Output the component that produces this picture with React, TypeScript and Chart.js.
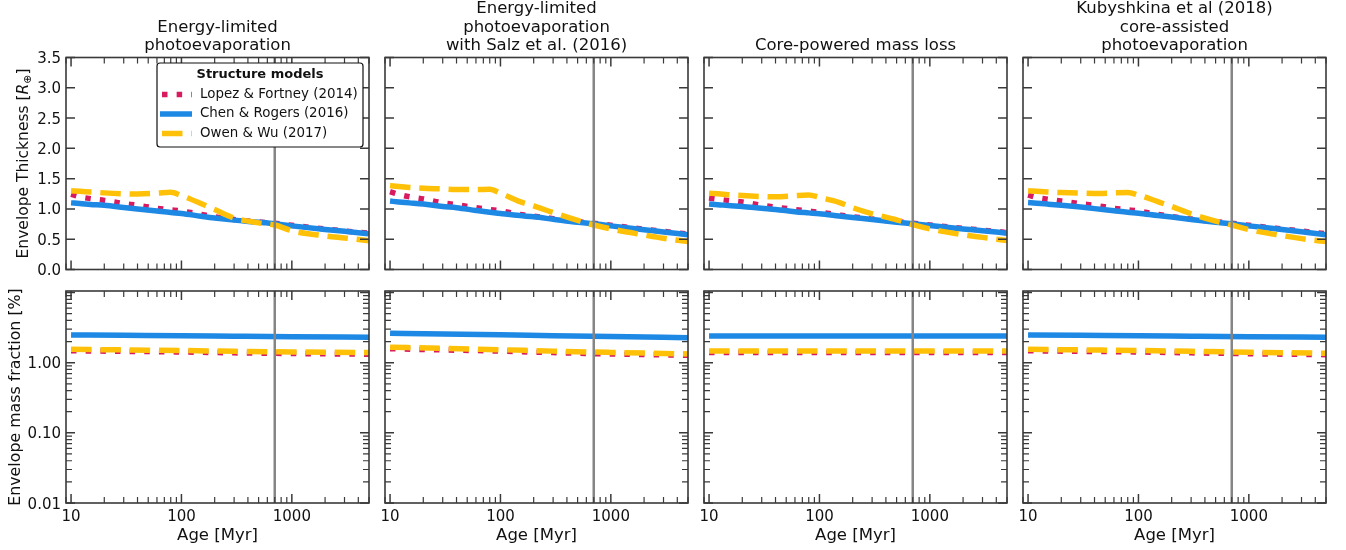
import React, { useEffect, useRef } from "react";
import { Chart, registerables } from "chart.js";

Chart.register(...registerables);

// ---------------- data ----------------
const panelTitles: string[][] = [
  ["Energy-limited", "photoevaporation"],
  ["Energy-limited", "photoevaporation", "with Salz et al. (2016)"],
  ["Core-powered mass loss"],
  ["Kubyshkina et al (2018)", "core-assisted", "photoevaporation"],
];
const modelNames = ["Lopez & Fortney (2014)", "Chen & Rogers (2016)", "Owen & Wu (2017)"];
const legendTitle = "Structure models";
const xAxisTitle = "Age [Myr]";
const yTitleTop = ["Envelope Thickness [", "R", "⊕", "]"];
const yTitleBottom = "Envelope mass fraction [%]";

const xMajorValues = [10, 100, 1000];
const xTickLabels = ["10", "100", "1000"];
const thickTickValues = [0, 0.5, 1, 1.5, 2, 2.5, 3, 3.5];
const thickTickLabels = ["0.0", "0.5", "1.0", "1.5", "2.0", "2.5", "3.0", "3.5"];
const fracTickValues = [0.01, 0.1, 1];
const fracTickLabels = ["0.01", "0.10", "1.00"];
const clusterAge = 700;

// envelope thickness [R_earth] vs age
const ages = [10, 12, 15, 20, 30, 40, 60, 80, 100, 150, 200, 300, 500, 700, 1000, 2000, 3000, 5000];

const thickLF_EL = [1.24, 1.2, 1.17, 1.14, 1.09, 1.06, 1.01, 0.985, 0.965, 0.91, 0.87, 0.825, 0.785, 0.765, 0.73, 0.67, 0.635, 0.6];
const thickCR_EL = [1.1, 1.09, 1.075, 1.06, 1.025, 1.0, 0.965, 0.94, 0.925, 0.88, 0.85, 0.815, 0.78, 0.755, 0.72, 0.66, 0.63, 0.59];
const thickOW_EL = [1.3, 1.29, 1.28, 1.265, 1.25, 1.245, 1.26, 1.275, 1.22, 1.09, 0.99, 0.85, 0.77, 0.735, 0.64, 0.555, 0.52, 0.475];

const thickLF_SZ = [1.285, 1.24, 1.2, 1.165, 1.1, 1.07, 1.02, 0.99, 0.97, 0.91, 0.88, 0.84, 0.79, 0.765, 0.73, 0.665, 0.63, 0.585];
const thickCR_SZ = [1.13, 1.115, 1.1, 1.08, 1.04, 1.02, 0.975, 0.945, 0.925, 0.89, 0.87, 0.83, 0.78, 0.755, 0.72, 0.655, 0.62, 0.575];
const thickOW_SZ = [1.385, 1.37, 1.355, 1.34, 1.33, 1.32, 1.32, 1.325, 1.26, 1.12, 1.05, 0.94, 0.81, 0.735, 0.67, 0.57, 0.515, 0.46];

const thickLF_CP = [1.18, 1.16, 1.14, 1.115, 1.06, 1.03, 0.99, 0.965, 0.945, 0.9, 0.87, 0.835, 0.79, 0.765, 0.735, 0.68, 0.65, 0.61];
const thickCR_CP = [1.08, 1.07, 1.055, 1.04, 1.01, 0.99, 0.955, 0.935, 0.92, 0.885, 0.86, 0.825, 0.78, 0.755, 0.725, 0.67, 0.64, 0.6];
const thickOW_CP = [1.26, 1.25, 1.235, 1.22, 1.205, 1.2, 1.22, 1.23, 1.19, 1.11, 1.02, 0.92, 0.82, 0.74, 0.67, 0.575, 0.53, 0.48];

const thickLF_KU = [1.23, 1.19, 1.16, 1.13, 1.085, 1.06, 1.01, 0.985, 0.965, 0.91, 0.875, 0.835, 0.79, 0.765, 0.73, 0.67, 0.635, 0.59];
const thickCR_KU = [1.105, 1.095, 1.08, 1.06, 1.03, 1.005, 0.97, 0.945, 0.93, 0.89, 0.865, 0.825, 0.78, 0.755, 0.72, 0.66, 0.625, 0.575];
const thickOW_KU = [1.3, 1.29, 1.28, 1.27, 1.26, 1.255, 1.265, 1.27, 1.23, 1.12, 1.04, 0.92, 0.8, 0.735, 0.66, 0.56, 0.51, 0.46];

// envelope mass fraction [%] vs age
const fracAges = [10, 30, 100, 300, 1000, 5000];

const fracLF_EL = [1.48, 1.45, 1.42, 1.38, 1.35, 1.32];
const fracCR_EL = [2.48, 2.45, 2.42, 2.38, 2.34, 2.3];
const fracOW_EL = [1.55, 1.52, 1.49, 1.45, 1.42, 1.39];

const fracLF_SZ = [1.58, 1.52, 1.46, 1.39, 1.33, 1.27];
const fracCR_SZ = [2.62, 2.56, 2.49, 2.42, 2.35, 2.27];
const fracOW_SZ = [1.66, 1.6, 1.53, 1.46, 1.4, 1.33];

const fracLF_CP = [1.4, 1.4, 1.4, 1.4, 1.4, 1.4];
const fracCR_CP = [2.4, 2.4, 2.4, 2.4, 2.4, 2.4];
const fracOW_CP = [1.47, 1.47, 1.47, 1.47, 1.47, 1.47];

const fracLF_KU = [1.48, 1.45, 1.42, 1.38, 1.34, 1.3];
const fracCR_KU = [2.48, 2.45, 2.42, 2.38, 2.34, 2.3];
const fracOW_KU = [1.55, 1.52, 1.49, 1.45, 1.41, 1.36];

const thickSeries = [
  [thickLF_EL, thickCR_EL, thickOW_EL],
  [thickLF_SZ, thickCR_SZ, thickOW_SZ],
  [thickLF_CP, thickCR_CP, thickOW_CP],
  [thickLF_KU, thickCR_KU, thickOW_KU],
];
const fracSeries = [
  [fracLF_EL, fracCR_EL, fracOW_EL],
  [fracLF_SZ, fracCR_SZ, fracOW_SZ],
  [fracLF_CP, fracCR_CP, fracOW_CP],
  [fracLF_KU, fracCR_KU, fracOW_KU],
];

// ---------------- layout & style ----------------
const PAGE_W = 1346;
const PAGE_H = 550;
const colLeft = [66, 385, 704, 1023];
const plotW = 303;
const rowTop = [57.5, 291];
const plotH = 212;
const X_MIN = 9;
const X_MAX = 5000;
const FRAC_MIN = 0.01;
const FRAC_MAX = 10.5;

const FONT = '"DejaVu Sans", sans-serif';
const TEXT = "#111111";
const FRAME = "#3a3a3a";
const LW = 5.5;
const modelStyles = [
  { color: "#D81B60", dash: [5.5, 9.15] },
  { color: "#1E88E5", dash: [] as number[] },
  { color: "#FFC107", dash: [20.5, 8.8] },
];
const modelOrder = [3, 2, 1];
const VLINE = "#858585";

function drawRotatedParts(ctx: CanvasRenderingContext2D, parts: { t: string; it?: boolean; sub?: boolean }[], cx: number, cy: number, size: number) {
  ctx.save();
  ctx.translate(cx, cy);
  ctx.rotate(-Math.PI / 2);
  ctx.textBaseline = "middle";
  ctx.textAlign = "left";
  const fonts = parts.map((p) => (p.sub ? `${size * 0.7}px ${FONT}` : `${p.it ? "italic " : ""}${size}px ${FONT}`));
  const widths = parts.map((p, i) => {
    ctx.font = fonts[i];
    return ctx.measureText(p.t).width;
  });
  const total = widths.reduce((a, b) => a + b, 0);
  let x = -total / 2;
  parts.forEach((p, i) => {
    ctx.font = fonts[i];
    ctx.fillStyle = TEXT;
    ctx.fillText(p.t, x, p.sub ? size * 0.28 : 0);
    x += widths[i];
  });
  ctx.restore();
}

function makeDecor(col: number, row: number) {
  return {
    id: "decor" + col + row,
    afterDraw(chart: any) {
      const ctx: CanvasRenderingContext2D = chart.ctx;
      const { left, right, top, bottom } = chart.chartArea;
      const xs = chart.scales.x;
      const ys = chart.scales.y;
      ctx.save();

      // inward ticks, x (top & bottom)
      ctx.strokeStyle = FRAME;
      for (let d = 1; d <= 1000; d *= 10) {
        for (let k = 1; k <= 9; k++) {
          const v = k * d;
          if (v < X_MIN || v > X_MAX) continue;
          const px = xs.getPixelForValue(v);
          const len = k === 1 ? 9 : 6;
          ctx.lineWidth = k === 1 ? 1.5 : 1.2;
          ctx.beginPath();
          ctx.moveTo(px, bottom);
          ctx.lineTo(px, bottom - len);
          ctx.moveTo(px, top);
          ctx.lineTo(px, top + len);
          ctx.stroke();
        }
      }
      // inward ticks, y (left & right)
      if (row === 0) {
        ctx.lineWidth = 1.5;
        thickTickValues.forEach((v) => {
          const py = ys.getPixelForValue(v);
          ctx.beginPath();
          ctx.moveTo(left, py);
          ctx.lineTo(left + 9, py);
          ctx.moveTo(right, py);
          ctx.lineTo(right - 9, py);
          ctx.stroke();
        });
      } else {
        for (let d = 0.01; d <= 10.01; d *= 10) {
          for (let k = 1; k <= 9; k++) {
            const v = k * d;
            if (v < FRAC_MIN * 0.999 || v > FRAC_MAX) continue;
            const py = ys.getPixelForValue(v);
            const len = k === 1 ? 9 : 6;
            ctx.lineWidth = k === 1 ? 1.5 : 1.2;
            ctx.beginPath();
            ctx.moveTo(left, py);
            ctx.lineTo(left + len, py);
            ctx.moveTo(right, py);
            ctx.lineTo(right - len, py);
            ctx.stroke();
          }
        }
      }

      // frame
      ctx.lineWidth = 1.6;
      ctx.strokeStyle = FRAME;
      ctx.strokeRect(left, top, right - left, bottom - top);

      ctx.fillStyle = TEXT;
      // y tick labels
      if (col === 0) {
        ctx.font = `15px ${FONT}`;
        ctx.textAlign = "right";
        ctx.textBaseline = "alphabetic";
        const vals = row === 0 ? thickTickValues : fracTickValues;
        const labs = row === 0 ? thickTickLabels : fracTickLabels;
        vals.forEach((v, i) => {
          const py = ys.getPixelForValue(v);
          ctx.fillText(labs[i], left - 5, py + 5.5);
        });
        if (row === 0) {
          drawRotatedParts(
            ctx,
            [{ t: yTitleTop[0] }, { t: yTitleTop[1], it: true }, { t: yTitleTop[2], sub: true }, { t: yTitleTop[3] }],
            24,
            (top + bottom) / 2,
            15.5
          );
        } else {
          drawRotatedParts(ctx, [{ t: yTitleBottom }], 16, (top + bottom) / 2, 15.8);
        }
      }

      // x tick labels & axis title
      if (row === 1) {
        ctx.font = `15px ${FONT}`;
        ctx.textAlign = "center";
        ctx.textBaseline = "alphabetic";
        xMajorValues.forEach((v, i) => {
          ctx.fillText(xTickLabels[i], xs.getPixelForValue(v), bottom + 18);
        });
        ctx.font = `16.5px ${FONT}`;
        ctx.fillText(xAxisTitle, (left + right) / 2, 540);
      }

      // titles
      if (row === 0) {
        ctx.font = `16.5px ${FONT}`;
        ctx.textAlign = "center";
        ctx.textBaseline = "alphabetic";
        const lines = panelTitles[col];
        lines.forEach((ln, i) => {
          const y = 50 - (lines.length - 1 - i) * 18.5;
          ctx.fillText(ln, (left + right) / 2, y);
        });
      }

      // legend
      if (row === 0 && col === 0) {
        const bx = 157, by = 63, bw = 206, bh = 84, r = 3;
        ctx.beginPath();
        ctx.moveTo(bx + r, by);
        ctx.lineTo(bx + bw - r, by);
        ctx.quadraticCurveTo(bx + bw, by, bx + bw, by + r);
        ctx.lineTo(bx + bw, by + bh - r);
        ctx.quadraticCurveTo(bx + bw, by + bh, bx + bw - r, by + bh);
        ctx.lineTo(bx + r, by + bh);
        ctx.quadraticCurveTo(bx, by + bh, bx, by + bh - r);
        ctx.lineTo(bx, by + r);
        ctx.quadraticCurveTo(bx, by, bx + r, by);
        ctx.closePath();
        ctx.fillStyle = "#ffffff";
        ctx.fill();
        ctx.lineWidth = 1.2;
        ctx.strokeStyle = "#111111";
        ctx.stroke();

        ctx.fillStyle = TEXT;
        ctx.font = `bold 13px ${FONT}`;
        ctx.textAlign = "center";
        ctx.textBaseline = "middle";
        ctx.fillText(legendTitle, 260, 75);
        const rowsY = [94.5, 114, 133.5];
        modelNames.forEach((nm, i) => {
          const st = modelStyles[i];
          ctx.save();
          ctx.strokeStyle = st.color;
          ctx.lineWidth = LW;
          ctx.lineCap = "butt";
          ctx.setLineDash(st.dash);
          ctx.beginPath();
          ctx.moveTo(i === 1 ? 160 : 162, rowsY[i]);
          ctx.lineTo(192, rowsY[i]);
          ctx.stroke();
          ctx.restore();
          ctx.fillStyle = TEXT;
          ctx.font = `13.4px ${FONT}`;
          ctx.textAlign = "left";
          ctx.textBaseline = "middle";
          ctx.fillText(nm, 200, rowsY[i]);
        });
      }
      ctx.restore();
    },
  };
}

function Panel({ col, row }: { col: number; row: number }) {
  const ref = useRef<HTMLCanvasElement>(null);
  useEffect(() => {
    if (!ref.current) return;
    const xVals = row === 0 ? ages : fracAges;
    const series = row === 0 ? thickSeries[col] : fracSeries[col];
    const yMin = row === 0 ? 0 : FRAC_MIN;
    const yMax = row === 0 ? 3.5 : FRAC_MAX;
    const datasets: any[] = series.map((vals, m) => ({
      label: modelNames[m],
      data: vals.map((v, i) => ({ x: xVals[i], y: v })),
      borderColor: modelStyles[m].color,
      backgroundColor: modelStyles[m].color,
      borderWidth: LW,
      borderDash: modelStyles[m].dash,
      borderCapStyle: "butt",
      borderJoinStyle: "round",
      cubicInterpolationMode: "monotone",
      pointRadius: 0,
      fill: false,
      clip: 0,
      order: modelOrder[m],
    }));
    datasets.push({
      label: "age",
      data: [
        { x: clusterAge, y: yMin },
        { x: clusterAge, y: yMax },
      ],
      borderColor: VLINE,
      borderWidth: 2.5,
      pointRadius: 0,
      fill: false,
      clip: 0,
      order: 0,
    });
    const L = colLeft[col];
    const T = rowTop[row];
    const chart = new Chart(ref.current, {
      type: "line",
      data: { datasets },
      options: {
        responsive: false,
        animation: false,
        devicePixelRatio: 1,
        events: [],
        layout: {
          padding: { left: L, top: T, right: PAGE_W - L - plotW, bottom: PAGE_H - T - plotH },
        },
        plugins: {
          legend: { display: false },
          tooltip: { enabled: false },
          title: { display: false },
        },
        scales: {
          x: { type: "logarithmic", min: X_MIN, max: X_MAX, display: false },
          y:
            row === 0
              ? { type: "linear", min: 0, max: 3.5, display: false }
              : { type: "logarithmic", min: FRAC_MIN, max: FRAC_MAX, display: false },
        },
      } as any,
      plugins: [makeDecor(col, row)],
    });
    return () => chart.destroy();
  }, [col, row]);
  return (
    <canvas
      ref={ref}
      width={PAGE_W}
      height={PAGE_H}
      style={{ position: "absolute", left: 0, top: 0, width: PAGE_W, height: PAGE_H }}
    />
  );
}

export default function App() {
  const panels: { col: number; row: number }[] = [];
  for (let r = 0; r < 2; r++) for (let c = 0; c < 4; c++) panels.push({ col: c, row: r });
  return (
    <div
      style={{
        position: "fixed",
        left: 0,
        top: 0,
        width: PAGE_W,
        height: PAGE_H,
        background: "#ffffff",
        overflow: "hidden",
      }}
    >
      {panels.map((p) => (
        <Panel key={`${p.col}-${p.row}`} col={p.col} row={p.row} />
      ))}
    </div>
  );
}
